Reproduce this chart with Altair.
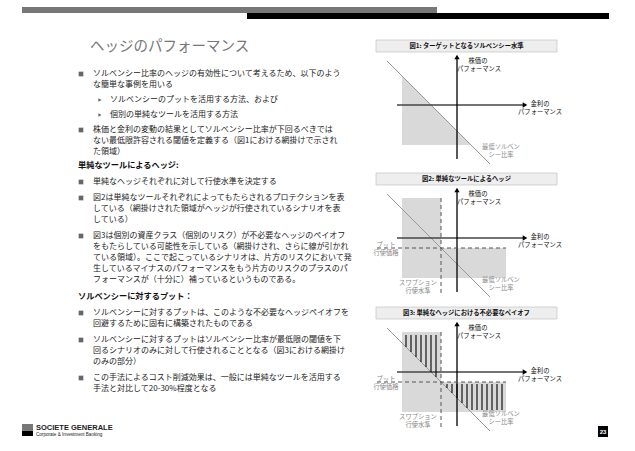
import altair as alt
import pandas as pd

W, H = 635, 451
JP = "Noto Sans CJK JP"

# ---------------- slide header ----------------
slide_title = "ヘッジのパフォーマンス"
band_x = [22, 247]
band_x2 = [437, 609]
band_y = [7, 13]
band_y2 = [13, 19]
band_color = ["#777777", "#000000"]

# ---------------- body text ----------------
body_text = [
    "ソルベンシー比率のヘッジの有効性について考えるため、以下のよう",
    "な簡単な事例を用いる",
    "ソルベンシーのプットを活用する方法、および",
    "個別の単純なツールを活用する方法",
    "株価と金利の変動の結果としてソルベンシー比率が下回るべきでは",
    "ない最低限許容される閾値を定義する（図1における網掛けで示され",
    "た領域）",
    "単純なヘッジそれぞれに対して行使水準を決定する",
    "図2は単純なツールそれぞれによってもたらされるプロテクションを表",
    "している（網掛けされた領域がヘッジが行使されているシナリオを表",
    "している）",
    "図3は個別の資産クラス（個別のリスク）が不必要なヘッジのペイオフ",
    "をもたらしている可能性を示している（網掛けされ、さらに線が引かれ",
    "ている領域）。ここで起こっているシナリオは、片方のリスクにおいて発",
    "生しているマイナスのパフォーマンスをもう片方のリスクのプラスのパ",
    "フォーマンスが（十分に）補っているというものである。",
    "ソルベンシーに対するプットは、このような不必要なヘッジペイオフを",
    "回避するために固有に構築されたものである",
    "ソルベンシーに対するプットはソルベンシー比率が最低限の閾値を下",
    "回るシナリオのみに対して行使されることとなる（図3における網掛け",
    "のみの部分）",
    "この手法によるコスト削減効果は、一般には単純なツールを活用する",
    "手法と対比して20-30%程度となる",
]
body_x = [93, 93, 110, 110, 93, 93, 93, 93, 93, 93, 93, 93, 93, 93, 93, 93,
          93, 93, 93, 93, 93, 93, 93]
body_y = [74, 85, 100, 115, 130, 141, 152, 182, 198, 209, 220, 236, 247, 258,
          269, 280, 313, 324, 340, 351, 362, 378, 389]

head_text = ["単純なツールによるヘッジ:", "ソルベンシーに対するプット："]
head_y = [166, 297]

bullet_y = [74, 130, 182, 198, 236, 313, 340, 378]
sub_bullet_y = [100, 115]

# ---------------- diagrams ----------------
fig_axis_y = [105, 238, 372]          # vertical position of each horizontal axis
fig_titles = ["図1: ターゲットとなるソルベンシー水準",
              "図2: 単純なツールによるヘッジ",
              "図3: 単純なヘッジにおける不必要なペイオフ"]

# offsets relative to each figure's horizontal axis
box_x, box_x2, box_top, box_bot = 376, 557, -65, -53
vaxis_x, vaxis_top, vaxis_bot = 457, -47, 54
haxis_x1, haxis_x2 = 397, 523
diag_x = [387, 490]
diag_y = [-44, 59]

# fig1 shaded triangle (x, upper edge, lower edge)
shade1_x = [402, 471]
shade1_top = [-29, 40]
shade1_bot = [40, 40]

# fig2/fig3 shaded rectangles
rect_x = [402, 441]
rect_x2 = [441, 506]
rect_top = [-40, 10]
rect_bot = [40, 40]

# dashed strike lines (fig2/fig3)
dash_v_x, dash_v_top, dash_v_bot = 441, -40, 55
dash_h_y, dash_h_x1, dash_h_x2 = 10, 377, 506

# fig3 hatch lines
hatch_x = [406, 411, 416, 421, 426, 431, 436,
           447, 452, 457, 462, 467, 472, 477, 482, 487, 492, 497, 502]
hatch_top = [-37, -37, -37, -37, -37, -37, -37,
             12, 12, 12, 12, 12, 12, 12, 12, 12, 12, 12, 12]
hatch_bot = [-25, -20, -15, -10, -5, 0, 5,
             16, 21, 26, 31, 36, 38, 38, 38, 38, 38, 38, 38]

# labels
stock_label = ["株価の", "パフォーマンス"]
stock_lx, stock_ly = [478, 479], [-44, -36]
rate_label = ["金利の", "パフォーマンス"]
rate_lx, rate_ly = [540, 540], [-1, 7]
min_label = ["最低ソルベン", "シー比率"]
min_lx, min_ly = [501, 501], [42, 50]
put_label = ["プット", "行使価格"]
put_lx, put_ly = [386, 386], [6.5, 15]
swp_label = ["スワプション", "行使水準"]
swp_lx, swp_ly = [418, 418], [45, 53]

# ---------------- build tables ----------------
xs = alt.Scale(domain=[0, W], nice=False, zero=False)
ys = alt.Scale(domain=[0, H], nice=False, zero=False, reverse=True)


def X(f="x"):
    return alt.X(f"{f}:Q", scale=xs, axis=None)


def Y(f="y"):
    return alt.Y(f"{f}:Q", scale=ys, axis=None)


rows_rect = []
for i in range(2):
    rows_rect.append(dict(x=band_x[i], x2=band_x2[i], y=band_y[i], y2=band_y2[i],
                          c=band_color[i], s="none"))
for k, y0 in enumerate(fig_axis_y):
    rows_rect.append(dict(x=box_x, x2=box_x2, y=y0 + box_top, y2=y0 + box_bot,
                          c="#eeeeee", s="#bbbbbb"))
    if k > 0:
        for i in range(2):
            rows_rect.append(dict(x=rect_x[i], x2=rect_x2[i], y=y0 + rect_top[i],
                                  y2=y0 + rect_bot[i], c="#d9d9d9", s="none"))
# footer logo + page number
rows_rect += [
    dict(x=22, x2=33, y=424, y2=430, c="#777777", s="none"),
    dict(x=22, x2=33, y=430.5, y2=436, c="#000000", s="none"),
    dict(x=598, x2=608, y=426, y2=437, c="#000000", s="none"),
]
df_rect = pd.DataFrame(rows_rect)

rects = alt.Chart(df_rect).mark_rect(strokeWidth=0.6).encode(
    x=X(), x2="x2:Q", y=Y(), y2="y2:Q",
    fill=alt.Fill("c:N", scale=None), stroke=alt.Stroke("s:N", scale=None))

# fig1 shaded area
y0 = fig_axis_y[0]
df_area = pd.DataFrame(dict(x=shade1_x, y=[y0 + v for v in shade1_top],
                            y2=[y0 + v for v in shade1_bot]))
area = alt.Chart(df_area).mark_area(color="#d9d9d9", opacity=1).encode(
    x=X(), y=Y(), y2="y2:Q")

# solid segments
seg = []
for k, y0 in enumerate(fig_axis_y):
    seg.append(dict(x=diag_x[0], x2=diag_x[1], y=y0 + diag_y[0], y2=y0 + diag_y[1],
                    c="#999999", w=1.0))
    seg.append(dict(x=haxis_x1, x2=haxis_x2, y=y0, y2=y0, c="#444444", w=1.6))
    seg.append(dict(x=vaxis_x, x2=vaxis_x, y=y0 + vaxis_top, y2=y0 + vaxis_bot,
                    c="#000000", w=1.3))
    if k == 2:
        for hx, ht, hb in zip(hatch_x, hatch_top, hatch_bot):
            seg.append(dict(x=hx, x2=hx, y=y0 + ht, y2=y0 + hb, c="#000000", w=1.1))
df_seg = pd.DataFrame(seg)
segs = alt.Chart(df_seg).mark_rule().encode(
    x=X(), x2="x2:Q", y=Y(), y2="y2:Q",
    color=alt.Color("c:N", scale=None),
    strokeWidth=alt.StrokeWidth("w:Q", scale=None))

# dashed segments
dash = []
for k, y0 in enumerate(fig_axis_y):
    if k > 0:
        dash.append(dict(x=dash_v_x, x2=dash_v_x, y=y0 + dash_v_top, y2=y0 + dash_v_bot))
        dash.append(dict(x=dash_h_x1, x2=dash_h_x2, y=y0 + dash_h_y, y2=y0 + dash_h_y))
df_dash = pd.DataFrame(dash)
dashes = alt.Chart(df_dash).mark_rule(color="#555555", strokeDash=[4, 3],
                                      strokeWidth=1).encode(
    x=X(), x2="x2:Q", y=Y(), y2="y2:Q")

# arrow heads
df_up = pd.DataFrame(dict(x=[vaxis_x] * 3, y=[y0 + vaxis_top - 1 for y0 in fig_axis_y]))
df_right = pd.DataFrame(dict(x=[haxis_x2 + 2] * 3, y=fig_axis_y))
up = alt.Chart(df_up).mark_point(shape="triangle-up", filled=True, color="#000000",
                                 size=28, opacity=1).encode(x=X(), y=Y())
right = alt.Chart(df_right).mark_point(shape="triangle-right", filled=True,
                                       color="#000000", size=28,
                                       opacity=1).encode(x=X(), y=Y())

# body text
df_body = pd.DataFrame(dict(x=body_x, y=body_y, t=body_text))
body = alt.Chart(df_body).mark_text(align="left", baseline="middle", font=JP,
                                    fontSize=8, color="#222222").encode(
    x=X(), y=Y(), text="t:N")
df_head = pd.DataFrame(dict(x=[78, 78], y=head_y, t=head_text))
heads = alt.Chart(df_head).mark_text(align="left", baseline="middle", font=JP,
                                     fontSize=8.2, fontWeight="bold",
                                     color="#111111").encode(x=X(), y=Y(), text="t:N")
df_title = pd.DataFrame(dict(x=[90], y=[47], t=[slide_title]))
title = alt.Chart(df_title).mark_text(align="left", baseline="middle", font=JP,
                                      fontSize=14.5, color="#777777").encode(
    x=X(), y=Y(), text="t:N")

df_bul = pd.DataFrame(dict(x=[81] * len(bullet_y), y=bullet_y))
bullets = alt.Chart(df_bul).mark_square(color="#666666", size=22, opacity=1).encode(
    x=X(), y=Y())
df_sub = pd.DataFrame(dict(x=[100] * len(sub_bullet_y), y=sub_bullet_y))
subs = alt.Chart(df_sub).mark_point(shape="triangle-right", filled=True,
                                    color="#666666", size=14, opacity=1).encode(
    x=X(), y=Y())

# diagram labels
lab_black, lab_gray = [], []
for k, y0 in enumerate(fig_axis_y):
    for t, lx, ly in zip(stock_label, stock_lx, stock_ly):
        lab_black.append(dict(x=lx, y=y0 + ly, t=t))
    for t, lx, ly in zip(rate_label, rate_lx, rate_ly):
        lab_black.append(dict(x=lx, y=y0 + ly, t=t))
    for t, lx, ly in zip(min_label, min_lx, min_ly):
        lab_gray.append(dict(x=lx, y=y0 + ly, t=t))
    if k > 0:
        for t, lx, ly in zip(put_label, put_lx, put_ly):
            lab_gray.append(dict(x=lx, y=y0 + ly, t=t))
        for t, lx, ly in zip(swp_label, swp_lx, swp_ly):
            lab_gray.append(dict(x=lx, y=y0 + ly, t=t))
labels_b = alt.Chart(pd.DataFrame(lab_black)).mark_text(
    align="center", baseline="middle", font=JP, fontSize=6.3, color="#111111").encode(
    x=X(), y=Y(), text="t:N")
labels_g = alt.Chart(pd.DataFrame(lab_gray)).mark_text(
    align="center", baseline="middle", font=JP, fontSize=6.3, color="#888888").encode(
    x=X(), y=Y(), text="t:N")

df_ft = pd.DataFrame(dict(x=[(box_x + box_x2) / 2] * 3,
                          y=[y0 + (box_top + box_bot) / 2 for y0 in fig_axis_y],
                          t=fig_titles))
fig_title = alt.Chart(df_ft).mark_text(align="center", baseline="middle", font=JP,
                                       fontSize=6.3, fontWeight="bold",
                                       color="#111111").encode(x=X(), y=Y(), text="t:N")

# footer
df_f1 = pd.DataFrame(dict(x=[36], y=[428], t=["SOCIETE GENERALE"]))
foot1 = alt.Chart(df_f1).mark_text(align="left", baseline="middle",
                                   font="Liberation Sans", fontSize=7.5,
                                   fontWeight="bold", color="#222222").encode(
    x=X(), y=Y(), text="t:N")
df_f2 = pd.DataFrame(dict(x=[36], y=[434.5], t=["Corporate & Investment Banking"]))
foot2 = alt.Chart(df_f2).mark_text(align="left", baseline="middle",
                                   font="Liberation Sans", fontSize=4.6,
                                   color="#222222").encode(x=X(), y=Y(), text="t:N")
df_pg = pd.DataFrame(dict(x=[603], y=[431.5], t=["23"]))
page = alt.Chart(df_pg).mark_text(align="center", baseline="middle",
                                  font="Liberation Sans", fontSize=6,
                                  fontWeight="bold", color="#ffffff").encode(
    x=X(), y=Y(), text="t:N")

chart = alt.layer(
    rects, area, segs, dashes, up, right, body, heads, title, bullets, subs,
    labels_b, labels_g, fig_title, foot1, foot2, page,
).properties(
    width=W, height=H, autosize=alt.AutoSizeParams(type="none"), padding=0,
    background="#ffffff",
).configure_view(stroke=None)

chart.save("out.html", embed_options={"renderer": "svg", "actions": False})
